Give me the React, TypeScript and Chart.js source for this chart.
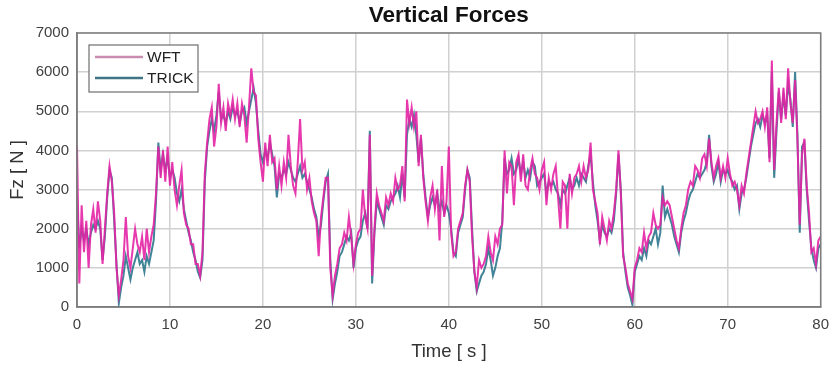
import React, { useEffect, useRef } from "react";
import { Chart, registerables } from "chart.js";

Chart.register(...registerables);

// sampling step of the series (seconds)
const TIME_STEP = 0.25;

// TRICK vertical force [N], one row per second (t, t+0.25, t+0.5, t+0.75)
const TRICK_VALUES: number[] = [
  2800, 1500, 2000, 1700,
  2000, 1600, 1900, 2100,
  2000, 2200, 2000, 1200,
  1800, 2800, 3500, 3300,
  2200, 1100, 100, 500,
  800, 1300, 1000, 700,
  1000, 1200, 1400, 1100,
  1200, 900, 1300, 1100,
  1400, 1700, 2700, 4200,
  3500, 3900, 3500, 3800,
  3300, 3500, 3300, 2900,
  2700, 3000, 2500, 2200,
  1900, 1700, 1400, 1200,
  900, 750, 1200, 3200,
  4100, 4500, 4800, 4500,
  4900, 5500, 4800, 4900,
  4700, 5000, 4800, 5100,
  4900, 5000, 4700, 5000,
  5100, 4700, 5000, 5300,
  5600, 5200, 4500, 3900,
  3700, 4000, 3800, 4200,
  3900, 3600, 2800, 3400,
  3300, 3500, 3400, 3700,
  3500, 3300, 3200, 3400,
  3600, 3300, 3400, 3200,
  3000, 2800, 2500, 2300,
  1800, 2100, 2700, 3200,
  3400, 1200, 200, 600,
  900, 1300, 1400, 1600,
  1800, 1700, 1900, 1000,
  1500, 1700, 1800, 2200,
  2400, 2000, 4500, 600,
  1900, 2700, 2500, 2300,
  2100, 2600, 2500, 2700,
  2800, 2900, 3100, 2800,
  3400, 2800, 4400, 4800,
  4600, 4900, 4400, 3700,
  4300, 3400, 2800, 2300,
  2600, 2800, 2600, 2900,
  2500, 2700, 2400, 2600,
  2400, 2000, 1400, 1300,
  1900, 2100, 2300, 3000,
  3500, 3300, 2000, 900,
  400, 600, 800, 900,
  1100, 1500, 1200, 800,
  1000, 1300, 1500, 2200,
  3800, 3400, 3500, 3800,
  3400, 3500, 3800, 3400,
  3700, 3300, 3500, 3300,
  3700, 3600, 3100, 3200,
  3300, 3400, 2900, 3200,
  3100, 3200, 3000, 2900,
  2600, 3000, 2900, 3100,
  3300, 3000, 3100, 3300,
  3100, 3400, 3300, 3200,
  3600, 3900, 3200, 2600,
  2200, 1700, 2100, 1900,
  1800, 2000, 1900, 2200,
  2900, 3900, 3000, 1400,
  900, 500, 300, 50,
  900, 1100, 1300, 1200,
  1500, 1300, 1700, 1600,
  1800, 2000, 1600, 1900,
  3100, 2300, 2500, 2300,
  2100, 1800, 1600, 1400,
  1900, 2200, 2400, 2700,
  2900, 3000, 3200, 3400,
  3300, 3400, 3500, 3700,
  4400, 3600, 3200, 3400,
  3700, 3200, 3500, 3400,
  3500, 3300, 3200, 3000,
  3100, 2500, 2900, 3000,
  3300, 3700, 4100, 4400,
  4700, 4800, 4600, 4900,
  4700, 4900, 3800, 6000,
  3300, 4500, 5500, 4800,
  5400, 4900, 5700, 5300,
  4600, 6000, 4400, 1900,
  4100, 4200, 3000, 2200,
  1500, 1200, 1000, 1500,
  1600,
];

// WFT vertical force [N], same sampling
const WFT_VALUES: number[] = [
  4100, 600, 2600, 1400,
  2200, 1000, 2100, 2500,
  1900, 2700, 2200, 1100,
  2000, 2900, 3600, 3200,
  2400, 1000, 300, 700,
  1200, 2300, 1300, 1000,
  1500, 2000, 1600, 1400,
  1800, 1200, 2000, 1400,
  1800, 2100, 2900, 4100,
  3300, 4000, 3200, 4100,
  3100, 3700, 3000, 2600,
  3100, 3500, 2400, 2100,
  2000, 1600, 1600, 1100,
  1100, 800, 1400, 3400,
  4200, 4800, 5100, 4100,
  4600, 5700, 4700, 5100,
  4500, 5200, 4900, 5300,
  4800, 5200, 4600, 5200,
  4900, 4200, 5100, 6100,
  5500, 5400, 4300, 3700,
  3200, 4200, 3600, 4400,
  3700, 3800, 3000, 3600,
  3100, 3700, 3300, 4400,
  3600, 3100, 2900, 3700,
  4800, 3500, 3700, 3000,
  3300, 2700, 2400, 2200,
  1300, 2300, 2800, 3300,
  3300, 1000, 300, 800,
  1100, 1500, 1600, 1900,
  1700, 2300, 1800, 1100,
  1600, 1900, 2000, 3000,
  2300, 2000, 4400, 800,
  2000, 2900, 2600, 2400,
  2200, 2800, 2600, 2900,
  2700, 3300, 3000, 3100,
  3600, 2700, 5300, 4700,
  5100, 4600, 5000, 3600,
  4400, 3300, 2700, 2200,
  2800, 3100, 2500, 3000,
  1700, 3600, 2300, 2700,
  4100, 1900, 1300, 1400,
  2000, 2200, 2400, 3100,
  3500, 3200, 1800, 900,
  500, 1200, 1000, 1100,
  1300, 1800, 1400, 1200,
  1800, 1600, 2000, 2100,
  4000, 2900, 3700, 3600,
  2600, 3700, 3900, 3200,
  3900, 3100, 3000, 3500,
  3800, 3400, 3300, 3000,
  3500, 3700, 2600, 3300,
  3000, 3400, 3600, 2800,
  2000, 3200, 3100, 2000,
  3400, 2900, 3300, 3400,
  3600, 3200, 3600, 3300,
  3500, 4200, 3000, 2700,
  2400, 1600, 2300, 2000,
  1700, 2200, 2000, 2400,
  3000, 4000, 2900, 1300,
  1000, 600, 400, 200,
  1000, 1200, 1500, 1400,
  1900, 1500, 1800, 1900,
  2400, 2100, 2000, 2100,
  2800, 2600, 2700, 2600,
  2300, 2000, 1700, 1500,
  2000, 2400, 2600, 3000,
  3200, 3100, 3600, 3500,
  3300, 3800, 3900, 3600,
  4300, 3700, 3300, 3600,
  3800, 3300, 3600, 3300,
  3800, 3400, 3100, 3200,
  3000, 2600, 3100, 2900,
  3400, 3800, 4200, 4600,
  5000, 4700, 4800, 5000,
  4600, 5100, 3700, 6300,
  3500, 4700, 5600, 4700,
  5600, 4800, 6100, 5200,
  4700, 5800, 4300, 2100,
  3900, 4300, 3100, 2400,
  1400, 1500, 1100, 1700,
  1800,
];

const X_MIN = 0;
const X_MAX = 80;
const X_STEP = 10;
const Y_MIN = 0;
const Y_MAX = 7000;
const Y_STEP = 1000;

const SERIES_LABELS = ["WFT", "TRICK"];
const SERIES_COLORS = ["rgba(228,36,165,0.9)", "rgba(44,118,140,0.9)"];
const LEGEND_COLORS = ["#c98cb0", "#3f7585"];

const FONT = "'Liberation Sans', Arial, Helvetica, sans-serif";

const toPoints = (vals: number[]) => vals.map((v, i) => ({ x: i * TIME_STEP, y: v }));

const frameAndLegend = {
  id: "frameAndLegend",
  afterDatasetsDraw(chart: any) {
    const { ctx, chartArea } = chart;
    ctx.save();
    // axes box
    ctx.strokeStyle = "#7d7d7d";
    ctx.lineWidth = 1.5;
    ctx.strokeRect(chartArea.left, chartArea.top, chartArea.right - chartArea.left, chartArea.bottom - chartArea.top);

    // legend box
    const x0 = chartArea.left + 12;
    const y0 = chartArea.top + 12;
    const w = 109;
    const h = 47;
    ctx.fillStyle = "#ffffff";
    ctx.fillRect(x0, y0, w, h);
    ctx.strokeStyle = "#6e6e6e";
    ctx.lineWidth = 1.2;
    ctx.strokeRect(x0, y0, w, h);
    ctx.font = `15.5px ${FONT}`;
    ctx.textBaseline = "middle";
    ctx.textAlign = "left";
    chart.data.datasets.forEach((ds: any, i: number) => {
      const yy = y0 + 12 + i * 21;
      ctx.strokeStyle = LEGEND_COLORS[i];
      ctx.lineWidth = 2.4;
      ctx.beginPath();
      ctx.moveTo(x0 + 6, yy);
      ctx.lineTo(x0 + 54, yy);
      ctx.stroke();
      ctx.fillStyle = "#222222";
      ctx.fillText(ds.label, x0 + 58, yy + 1);
    });
    ctx.restore();
  },
};

export default function App() {
  const canvasRef = useRef<HTMLCanvasElement | null>(null);

  useEffect(() => {
    if (!canvasRef.current) return;
    const chart = new Chart(canvasRef.current, {
      type: "line",
      data: {
        datasets: [
          {
            label: SERIES_LABELS[0],
            data: toPoints(WFT_VALUES),
            borderColor: SERIES_COLORS[0],
            borderWidth: 2,
            pointRadius: 0,
            tension: 0,
          },
          {
            label: SERIES_LABELS[1],
            data: toPoints(TRICK_VALUES),
            borderColor: SERIES_COLORS[1],
            borderWidth: 2,
            pointRadius: 0,
            tension: 0,
          },
        ],
      },
      options: {
        animation: false,
        responsive: true,
        maintainAspectRatio: false,
        devicePixelRatio: 1,
        layout: { padding: { left: 0, right: 9, top: 0, bottom: 0 } },
        plugins: {
          legend: { display: false },
          tooltip: { enabled: false },
          title: {
            display: true,
            text: "Vertical Forces",
            fullSize: false,
            color: "#111111",
            font: { family: FONT, size: 22.5, weight: "bold" },
            padding: { top: 2, bottom: 4 },
          },
        },
        scales: {
          x: {
            type: "linear",
            min: X_MIN,
            max: X_MAX,
            afterFit: (s: any) => {
              s.height = 59;
            },
            ticks: {
              stepSize: X_STEP,
              color: "#404040",
              font: { family: FONT, size: 15 },
              padding: 9,
              maxRotation: 0,
              callback: (v: any) => String(v),
            },
            grid: { color: "#d0d0d0", lineWidth: 1.5, drawTicks: false },
            border: { display: true, color: "#7d7d7d", width: 1.5 },
            title: {
              display: true,
              text: "Time [ s ]",
              color: "#333333",
              font: { family: FONT, size: 18.5 },
              padding: { top: 0, bottom: 3 },
            },
          },
          y: {
            type: "linear",
            min: Y_MIN,
            max: Y_MAX,
            afterFit: (s: any) => {
              s.width = 77;
            },
            ticks: {
              stepSize: Y_STEP,
              color: "#404040",
              font: { family: FONT, size: 15 },
              padding: 8,
              callback: (v: any) => String(v),
            },
            grid: { color: "#d0d0d0", lineWidth: 1.5, drawTicks: false },
            border: { display: true, color: "#7d7d7d", width: 1.5 },
            title: {
              display: true,
              text: "Fz [ N ]",
              color: "#333333",
              font: { family: FONT, size: 18.5 },
              padding: { top: 7, bottom: 0 },
            },
          },
        },
      } as any,
      plugins: [frameAndLegend],
    });
    return () => chart.destroy();
  }, []);

  return (
    <div style={{ position: "absolute", left: 0, top: 0, width: 838, height: 366, background: "#ffffff" }}>
      <canvas ref={canvasRef} />
    </div>
  );
}
